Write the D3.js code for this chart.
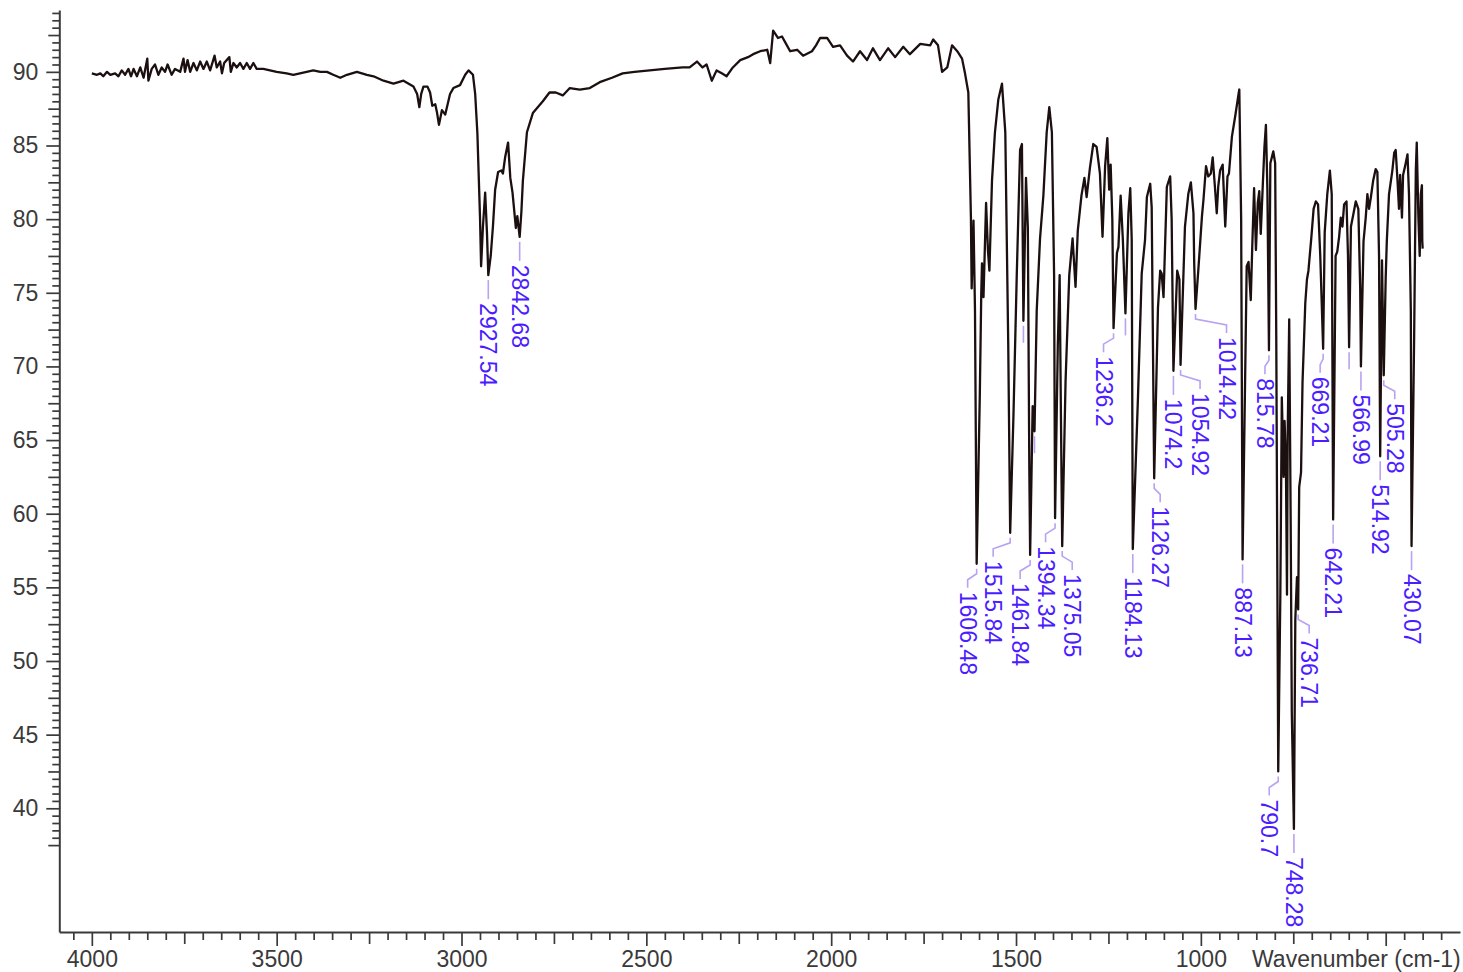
<!DOCTYPE html>
<html>
<head>
<meta charset="utf-8">
<script src="https://cdn.jsdelivr.net/npm/d3@7"></script>
<style>
  html, body { margin: 0; padding: 0; background: #ffffff; }
  svg { display: block; font-family: "Liberation Sans", Arial, Helvetica, sans-serif; }
</style>
</head>
<body>
<svg id="chart" width="1463" height="972"></svg>
<script>
// ---------------- data ----------------
// IR spectrum: wavenumber (cm-1) and % transmittance, high to low wavenumber
const wavenumber = [
  4000, 3986, 3977, 3969, 3959, 3950, 3937, 3928, 3919, 3910, 3901, 3894, 3887, 3878, 3869, 3860,
  3850, 3847, 3838, 3829, 3820, 3811, 3802, 3795, 3784, 3775, 3761, 3752, 3748, 3741, 3734, 3725,
  3716, 3707, 3698, 3689, 3680, 3668, 3662, 3653, 3648, 3642, 3628, 3624, 3617, 3608, 3599, 3590,
  3581, 3572, 3563, 3554, 3536, 3518, 3500, 3473, 3455, 3437, 3401, 3382, 3364, 3347, 3328, 3310,
  3283, 3256, 3238, 3211, 3184, 3157, 3130, 3120, 3114, 3109, 3103, 3092, 3085, 3079, 3071, 3066,
  3061, 3053, 3050, 3044, 3031, 3022, 3004, 2990, 2981, 2969, 2963, 2957, 2950, 2947, 2942, 2936,
  2931, 2927.54, 2921, 2915, 2909, 2901, 2892, 2888, 2882, 2874, 2868, 2862, 2859, 2853, 2849, 2842.68,
  2838, 2834, 2823, 2807, 2780, 2762, 2745, 2726, 2707, 2680, 2653, 2626, 2593, 2564, 2532, 2491,
  2450, 2402, 2383, 2363, 2348, 2337, 2323, 2310, 2296, 2283, 2266, 2246, 2225, 2211, 2192, 2173,
  2165, 2157, 2144, 2133, 2122, 2111, 2092, 2076, 2052, 2041, 2030, 2011, 1995, 1976, 1957, 1941,
  1922, 1903, 1887, 1868, 1846, 1827, 1805, 1787, 1759, 1732, 1724, 1711, 1700, 1686, 1673, 1659,
  1646, 1638, 1629, 1622, 1620, 1615, 1611, 1606.48, 1598, 1594, 1592, 1588, 1581, 1576, 1572, 1565,
  1557, 1548, 1538, 1529, 1521, 1515.84, 1507, 1498, 1489, 1484, 1480, 1473, 1468, 1464, 1461.84, 1455,
  1450, 1444, 1435, 1426, 1417, 1410, 1403, 1397, 1394.34, 1387, 1382, 1378.5, 1375.05, 1366, 1356, 1347,
  1339, 1333, 1323, 1315, 1309, 1300, 1291, 1282, 1273, 1266, 1259, 1253, 1248, 1244, 1239.5, 1236.2,
  1227, 1223, 1217, 1211, 1204, 1196, 1191, 1187, 1184.13, 1170, 1160, 1151, 1146, 1137, 1133, 1126.27,
  1116, 1110, 1106, 1101, 1092, 1083, 1079, 1074.2, 1064, 1058, 1054.92, 1043, 1034, 1027, 1020, 1018,
  1014.42, 1007, 997, 993, 986, 980, 973, 968, 962, 957, 953, 948, 941, 934, 928, 924,
  916, 907, 898, 896, 891, 887.13, 876, 871, 865, 861, 856, 851, 846, 842, 838, 832,
  828, 824, 820, 815.78, 812, 804, 799, 796, 790.7, 785, 781, 776, 773.5, 770, 767, 765,
  761, 757, 754, 748.28, 744.5, 740, 736.71, 734, 729, 725, 717.5, 713, 709, 701, 695, 689,
  683, 677, 669.21, 665, 658, 651, 646, 642.21, 635.5, 631, 626, 621.5, 617, 612.5, 606, 602,
  599, 594, 587, 581, 574, 569, 566.99, 560, 554, 549.5, 545, 540, 534, 527, 522.5, 518,
  514.92, 510, 505.28, 500, 497, 491, 482, 477, 473, 468, 464, 461, 456, 453, 447.5, 441,
  437, 432, 430.07, 423, 418.5, 416, 411.5, 408, 405, 402, 401, 400
];
const transmittance = [
  89.9, 89.8, 89.9, 89.7, 90.0, 89.8, 89.9, 89.7, 90.1, 89.8, 90.2, 89.7, 90.2, 89.7, 90.3, 89.6,
  90.9, 89.4, 90.2, 90.5, 89.8, 90.3, 90.0, 90.5, 89.8, 90.2, 90.0, 90.9, 90.0, 90.8, 90.0, 90.6,
  90.1, 90.7, 90.2, 90.7, 90.1, 91.1, 90.3, 90.7, 89.9, 90.6, 91.0, 90.0, 90.6, 90.3, 90.6, 90.2,
  90.6, 90.2, 90.6, 90.2, 90.2, 90.1, 90.0, 89.9, 89.8, 89.9, 90.1, 90.0, 90.0, 89.8, 89.6, 89.8,
  90.0, 89.8, 89.7, 89.4, 89.2, 89.4, 89.0, 88.5, 87.6, 88.5, 89.0, 89.0, 88.6, 87.7, 87.8, 87.2,
  86.4, 87.4, 87.3, 87.1, 88.5, 88.9, 89.1, 89.8, 90.1, 89.8, 88.5, 85.8, 80.2, 76.8, 79.5, 81.8,
  79.0, 76.2, 77.5, 79.5, 82.0, 83.2, 83.3, 83.1, 84.2, 85.2, 82.8, 81.8, 81.0, 79.4, 80.2, 78.8,
  80.5, 82.6, 85.9, 87.2, 88.0, 88.6, 88.6, 88.4, 88.9, 88.8, 88.9, 89.3, 89.6, 89.9, 90.0, 90.1,
  90.2, 90.3, 90.3, 90.7, 90.3, 90.5, 89.4, 90.1, 89.9, 89.7, 90.3, 90.8, 91.0, 91.2, 91.4, 91.5,
  90.6, 92.8, 92.3, 92.4, 91.9, 91.4, 91.5, 91.1, 91.4, 91.8, 92.3, 92.3, 91.7, 91.8, 91.1, 90.7,
  91.4, 90.8, 91.6, 90.8, 91.6, 91.0, 91.7, 91.2, 91.9, 91.8, 92.2, 91.8, 90.0, 90.3, 91.8, 91.4,
  90.9, 89.9, 88.6, 80.1, 75.3, 79.9, 73.8, 56.6, 68.0, 75.0, 77.0, 74.7, 81.1, 77.9, 76.5, 82.6,
  85.9, 88.1, 89.2, 85.9, 71.4, 58.7, 66.6, 76.2, 84.7, 85.1, 73.1, 82.8, 79.4, 63.0, 57.2, 67.3,
  65.6, 73.8, 78.7, 81.6, 85.9, 87.6, 85.9, 76.2, 59.7, 71.4, 76.2, 66.6, 57.8, 69.0, 76.2, 78.7,
  75.4, 79.2, 81.6, 82.8, 81.5, 83.5, 85.1, 84.9, 83.1, 78.8, 83.6, 85.5, 82.0, 83.7, 80.0, 72.6,
  77.7, 78.1, 81.6, 78.6, 73.6, 80.4, 82.1, 78.6, 57.6, 68.0, 76.3, 78.6, 81.5, 82.4, 80.8, 62.4,
  74.0, 76.5, 76.3, 74.7, 82.2, 82.9, 80.0, 69.7, 76.5, 75.9, 70.1, 79.5, 81.7, 82.5, 80.4, 77.0,
  73.9, 76.5, 80.2, 81.3, 83.6, 82.9, 83.1, 84.2, 82.2, 80.4, 82.2, 83.3, 83.7, 79.5, 82.9, 83.1,
  85.6, 87.0, 88.5, 88.8, 80.0, 56.9, 76.8, 77.1, 74.5, 78.1, 82.1, 77.9, 81.1, 81.9, 79.0, 82.6,
  84.9, 86.4, 82.0, 71.1, 83.8, 84.6, 83.8, 72.0, 42.5, 54.5, 67.9, 62.5, 66.3, 63.7, 54.5, 65.7,
  73.2, 59.3, 46.5, 38.6, 52.8, 55.7, 53.5, 61.8, 62.8, 68.9, 74.3, 75.9, 76.5, 78.8, 80.7, 81.2,
  81.0, 77.5, 71.2, 79.1, 81.7, 83.3, 81.7, 59.6, 77.5, 77.8, 78.8, 80.1, 79.5, 81.0, 81.2, 77.5,
  71.3, 79.5, 80.4, 81.2, 80.7, 75.3, 70.0, 78.5, 80.1, 81.7, 80.7, 81.5, 82.6, 83.4, 83.2, 77.5,
  63.9, 77.2, 69.4, 76.0, 78.5, 81.7, 83.3, 84.5, 84.7, 82.6, 80.7, 83.0, 80.1, 83.0, 83.6, 84.4,
  81.7, 73.7, 57.8, 72.1, 83.3, 85.2, 80.1, 77.5, 81.7, 82.3, 78.5, 78.0
];

// annotated absorption bands (cm-1)
const peakWavenumbers = [
  2927.54, 2842.68, 1606.48, 1515.84, 1461.84, 1394.34, 1375.05, 1236.2, 1184.13, 1126.27,
  1074.2, 1054.92, 1014.42, 887.13, 815.78, 790.7, 748.28, 736.71, 669.21, 642.21,
  566.99, 514.92, 505.28, 430.07
];
// picked bands whose labels are suppressed (leader stub only)
const stubWavenumbers = [1480, 1450, 1204, 599];

// axis ticks
const yTickValues = [40, 45, 50, 55, 60, 65, 70, 75, 80, 85, 90];
const xTickValues = [4000, 3500, 3000, 2500, 2000, 1500, 1000, 500];
const xTickLabels = ["4000", "3500", "3000", "2500", "2000", "1500", "1000", ""];
const xAxisTitle = "Wavenumber (cm-1)";

// ---------------- layout ----------------
const plot = { left: 59.3, right: 1460, top: 10, bottom: 932 };
// horizontal label shifts (px) that keep crowded band labels apart
const labelShift = {
  1606.48: -9, 1515.84: -17, 1461.84: -10, 1394.34: -9.5, 1375.05: 10, 1236.2: -10,
  1126.27: 6, 1054.92: 19.5, 1014.42: 31, 815.78: -4, 790.7: -9, 736.71: 11,
  669.21: -3, 505.28: 11
};
const axisColor = "#3a3a3a";
const lineColor = "#1c0f0f";
const labelColor = "#4a1cff";
const leaderColor = "#b8a2f2";
const fontSize = 23;

const svg = d3.select("#chart");

const x = d3.scaleLinear().domain([4088, 299]).range([plot.left, plot.right]);
const y = d3.scaleLinear().domain([31.6, 94.2]).range([plot.bottom, plot.top]);

// ---------------- axes ----------------
function styleAxis(g) {
  g.selectAll("path.domain").attr("stroke", axisColor).attr("stroke-width", 2);
  g.selectAll(".tick line").attr("stroke", axisColor).attr("stroke-width", 1.7);
  g.selectAll(".tick text")
    .attr("fill", axisColor)
    .style("font-size", fontSize + "px")
    .style("font-family", '"Liberation Sans", Arial, sans-serif');
}

// Y: minor every 0.5, medium every 2.5, major every 5
const yMinor = d3.range(38, 94.01, 0.5).filter(v => Math.abs(v / 2.5 - Math.round(v / 2.5)) > 1e-6);
const yMedium = d3.range(37.5, 94.01, 2.5).filter(v => Math.abs(v / 5 - Math.round(v / 5)) > 1e-6);

svg.append("g")
  .attr("transform", `translate(${plot.left},0)`)
  .call(d3.axisLeft(y).tickValues(yMinor).tickSize(7).tickSizeOuter(0).tickFormat(""))
  .call(styleAxis);
svg.append("g")
  .attr("transform", `translate(${plot.left},0)`)
  .call(d3.axisLeft(y).tickValues(yMedium).tickSize(11).tickSizeOuter(0).tickFormat(""))
  .call(g => g.select("path.domain").remove())
  .call(styleAxis);
svg.append("g")
  .attr("transform", `translate(${plot.left},0)`)
  .call(d3.axisLeft(y).tickValues(yTickValues).tickSize(13).tickPadding(8).tickSizeOuter(0)
    .tickFormat(d => String(d)))
  .call(g => g.select("path.domain").remove())
  .call(styleAxis);

// X: minor every 50, medium every 250, major every 500
const xMinor = d3.range(350, 4051, 50).filter(v => v % 250 !== 0);
const xMedium = d3.range(250, 4051, 250).filter(v => v % 500 !== 0 && v >= 350);

svg.append("g")
  .attr("transform", `translate(0,${plot.bottom})`)
  .call(d3.axisBottom(x).tickValues(xMinor).tickSize(8).tickSizeOuter(0).tickFormat(""))
  .call(styleAxis);
svg.append("g")
  .attr("transform", `translate(0,${plot.bottom})`)
  .call(d3.axisBottom(x).tickValues(xMedium).tickSize(12).tickSizeOuter(0).tickFormat(""))
  .call(g => g.select("path.domain").remove())
  .call(styleAxis);
svg.append("g")
  .attr("transform", `translate(0,${plot.bottom})`)
  .call(d3.axisBottom(x).tickValues(xTickValues).tickSize(14).tickPadding(5).tickSizeOuter(0)
    .tickFormat((d, i) => xTickLabels[i]))
  .call(g => g.select("path.domain").remove())
  .call(styleAxis);

svg.append("text")
  .attr("x", 1252)
  .attr("y", 967)
  .attr("fill", axisColor)
  .style("font-size", fontSize + "px")
  .text(xAxisTitle);

// ---------------- spectrum ----------------
const spectrum = wavenumber.map((w, i) => [w, transmittance[i]]);
const tAt = w => transmittance[wavenumber.indexOf(w)];
const nearestT = w => {
  let best = 0;
  wavenumber.forEach((v, i) => { if (Math.abs(v - w) < Math.abs(wavenumber[best] - w)) best = i; });
  return transmittance[best];
};

svg.append("path")
  .datum(spectrum)
  .attr("fill", "none")
  .attr("stroke", lineColor)
  .attr("stroke-width", 2.3)
  .attr("stroke-linejoin", "round")
  .attr("d", d3.line().x(d => x(d[0])).y(d => y(d[1])));

// ---------------- band labels ----------------
const peaks = svg.append("g");

stubWavenumbers.forEach(w => {
  const px = x(w), py = y(nearestT(w));
  peaks.append("path")
    .attr("d", `M${px},${py + 5}V${py + 22}`)
    .attr("stroke", leaderColor).attr("stroke-width", 1.6).attr("fill", "none");
});

peakWavenumbers.forEach(w => {
  const px = x(w), py = y(tAt(w));
  const lx = px + (labelShift[w] || 0);
  const d = lx === px
    ? `M${px},${py + 5}V${py + 24}`
    : `M${px},${py + 5}V${py + 10}L${lx},${py + 16}V${py + 24}`;
  peaks.append("path")
    .attr("d", d)
    .attr("stroke", leaderColor).attr("stroke-width", 1.6).attr("fill", "none");
  peaks.append("text")
    .attr("transform", `translate(${lx},${py + 28}) rotate(90)`)
    .attr("text-anchor", "start")
    .attr("dominant-baseline", "central")
    .attr("fill", labelColor)
    .style("font-size", fontSize + "px")
    .text(String(w));
});
</script>
</body>
</html>
